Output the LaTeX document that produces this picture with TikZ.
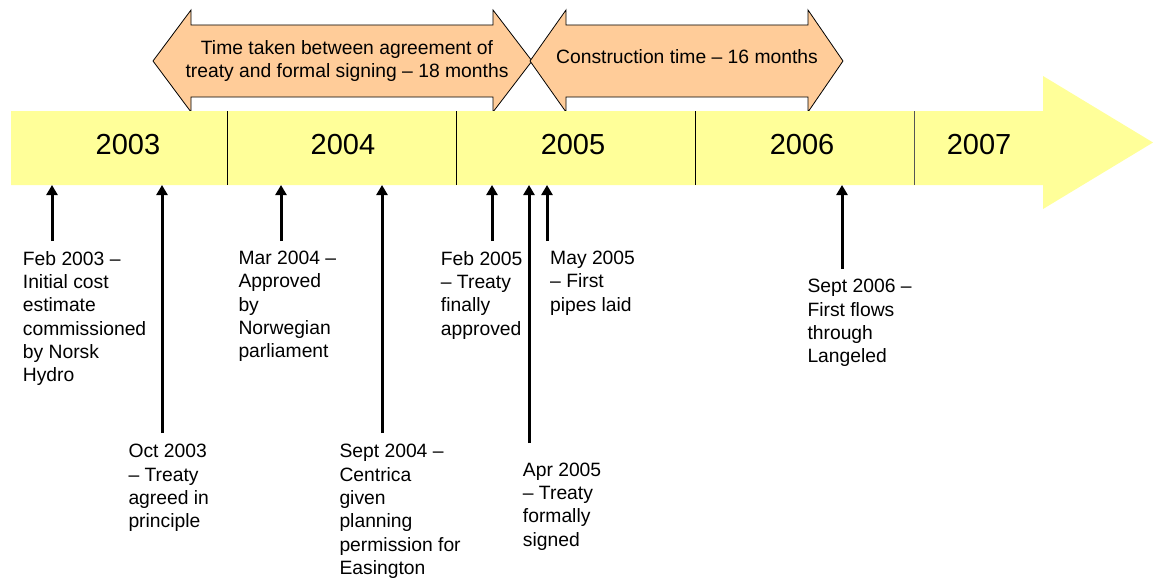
\documentclass[tikz,border=0pt]{standalone}
\usepackage{fontspec}
\setmainfont{Liberation Sans}
\usetikzlibrary{arrows.meta}
\definecolor{bandyellow}{HTML}{FFFF99}
\definecolor{peach}{HTML}{FFCC99}
\definecolor{sepgray}{HTML}{555555}
\tikzset{
  spanarrow/.style={draw=black, line width=0.8pt, fill=peach, line join=miter},
  yearlabel/.style={inner sep=0pt, font=\fontsize{29}{34}\selectfont},
  eventlabel/.style={inner sep=0pt, anchor=north west, align=left, font=\fontsize{19.3}{23.3}\selectfont},
  spanlabel/.style={inner sep=0pt, align=center, font=\fontsize{19.3}{23.3}\selectfont},
  eventarrow/.style={line width=3pt, -{Triangle[length=10pt,width=11pt]}},
  separator/.style={line width=0.9pt}
}
\begin{document}
\begin{tikzpicture}[x=1pt,y=-1pt]
\useasboundingbox (0,0) rectangle (1153,578);
% top span arrows
\path[spanarrow] (153,61) -- (191,10) -- (191,25) -- (493,25) -- (493,10) -- (532,61)
  -- (493,112) -- (493,97) -- (191,97) -- (191,112) -- cycle;
\path[spanarrow] (530,61) -- (566,10) -- (566,25) -- (808,25) -- (808,10) -- (843,61)
  -- (808,112) -- (808,97) -- (566,97) -- (566,112) -- cycle;
\node[spanlabel] (span1) at (347,61) {Time taken between agreement of\\treaty and formal signing -- 18 months};
\node[spanlabel] (span2) at (687,57) {Construction time -- 16 months};
% timeline band
\fill[bandyellow] (11,111) -- (1043,111) -- (1043,76) -- (1153,142.5) -- (1043,209)
  -- (1043,185) -- (11,185) -- cycle;
\draw[separator] (227,111) -- (227,185);
\draw[separator] (456,111) -- (456,185);
\draw[separator] (695,111) -- (695,185);
\draw[separator, draw=sepgray] (914.5,111) -- (914.5,185);
\node[yearlabel] (y2003) at (128,145) {2003};
\node[yearlabel] (y2004) at (343,145) {2004};
\node[yearlabel] (y2005) at (573,145) {2005};
\node[yearlabel] (y2006) at (802,145) {2006};
\node[yearlabel] (y2007) at (979,145) {2007};
% event points on the band
\coordinate (p1) at (52,185);
\coordinate (p2) at (162,185);
\coordinate (p3) at (281,185);
\coordinate (p4) at (382,185);
\coordinate (p5) at (492,185);
\coordinate (p6) at (529,185);
\coordinate (p7) at (547,185);
\coordinate (p8) at (842,185);
% tails
\coordinate (q1) at (52,241);
\coordinate (q2) at (162,433);
\coordinate (q3) at (281,241);
\coordinate (q4) at (382,433);
\coordinate (q5) at (492,241);
\coordinate (q6) at (529,443);
\coordinate (q7) at (547,241);
\coordinate (q8) at (842,269);
\foreach \i in {1,...,8} \draw[eventarrow] (q\i) -- (p\i);
% labels
\node[eventlabel] (e1) at (22.7,251) {Feb 2003 --\\Initial cost\\estimate\\commissioned\\by Norsk\\Hydro};
\node[eventlabel] (e2) at (128.3,444.3) {Oct 2003\\-- Treaty\\agreed in\\principle};
\node[eventlabel] (e3) at (238.3,251) {Mar 2004 --\\Approved\\by\\Norwegian\\parliament};
\node[eventlabel] (e4) at (339.3,444.3) {Sept 2004 --\\Centrica\\given\\planning\\permission for\\Easington};
\node[eventlabel] (e5) at (440.7,251) {Feb 2005\\-- Treaty\\finally\\approved};
\node[eventlabel] (e6) at (522.7,462.7) {Apr 2005\\-- Treaty\\formally\\signed};
\node[eventlabel] (e7) at (550,251) {May 2005\\-- First\\pipes laid};
\node[eventlabel] (e8) at (807.3,279.3) {Sept 2006 --\\First flows\\through\\Langeled};
\end{tikzpicture}
\end{document}
